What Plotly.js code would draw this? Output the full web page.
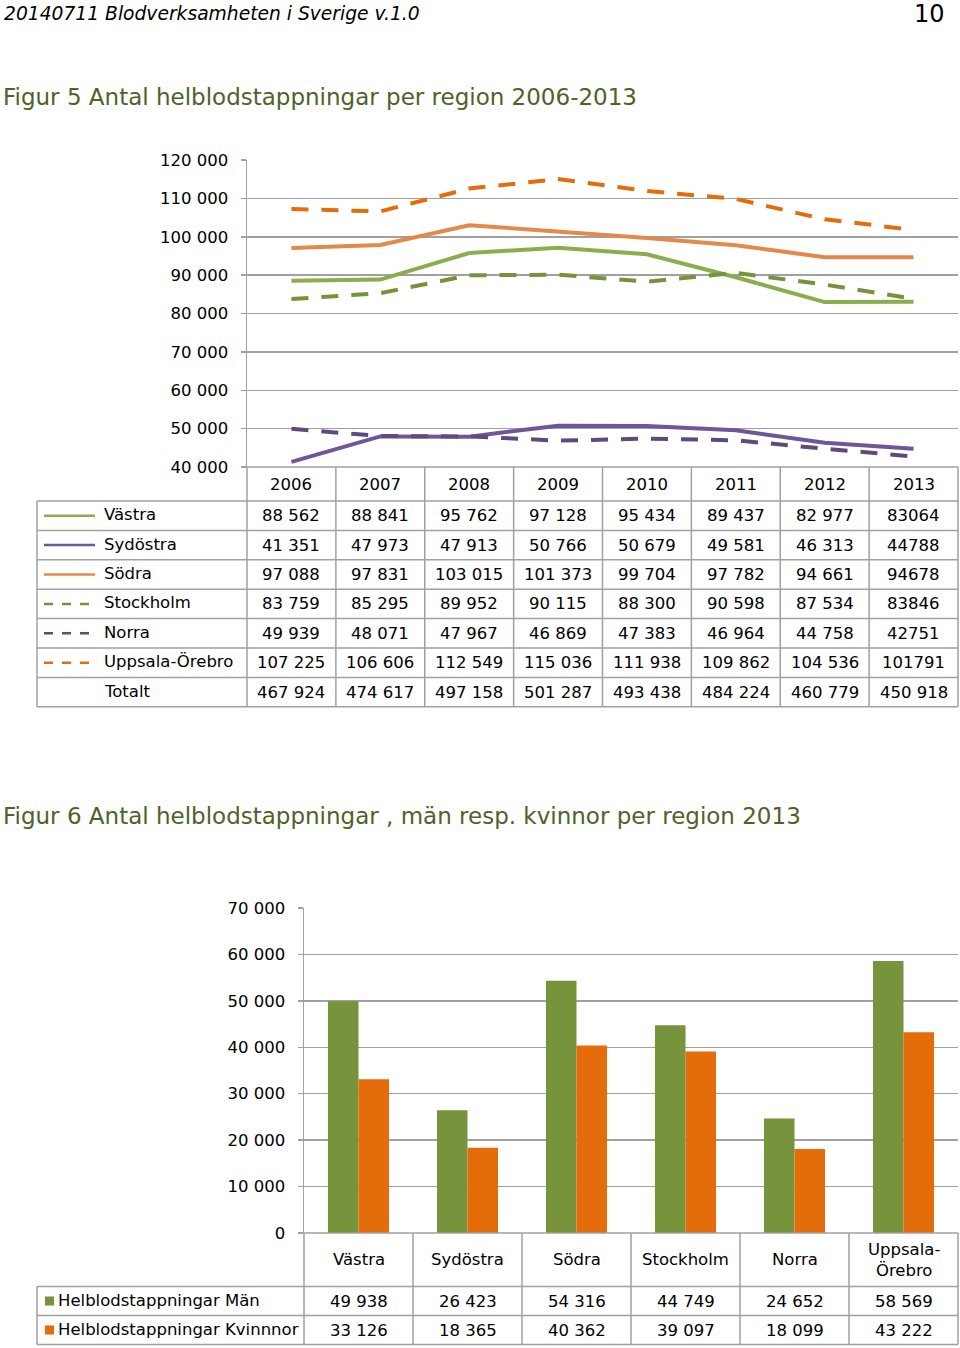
<!DOCTYPE html>
<html><head><meta charset="utf-8">
<script src="https://cdn.plot.ly/plotly-3.0.1.min.js"></script>
<style>html,body{margin:0;padding:0;background:#fff}#chart{width:960px;height:1348px}</style>
</head><body><div id="chart"></div>
<script>
// ---------- DATA ----------
const years = ['2006','2007','2008','2009','2010','2011','2012','2013'];
const regionNames = ['Västra','Sydöstra','Södra','Stockholm','Norra','Uppsala-Örebro'];
const vastra    = [88562, 88841, 95762, 97128, 95434, 89437, 82977, 83064];
const sydostra  = [41351, 47973, 47913, 50766, 50679, 49581, 46313, 44788];
const sodra     = [97088, 97831, 103015, 101373, 99704, 97782, 94661, 94678];
const stockholm = [83759, 85295, 89952, 90115, 88300, 90598, 87534, 83846];
const norra     = [49939, 48071, 47967, 46869, 47383, 46964, 44758, 42751];
const uppsala   = [107225, 106606, 112549, 115036, 111938, 109862, 104536, 101791];
const totaltLabel = 'Totalt';
const totalt    = [467924, 474617, 497158, 501287, 493438, 484224, 460779, 450918];
const plainFormatYears = ['2013']; // regional values for these years are printed without grouping in the source

const regions2013 = ['Västra','Sydöstra','Södra','Stockholm','Norra','Uppsala-Örebro'];
const manLabel = 'Helblodstappningar Män';
const kvinnorLabel = 'Helblodstappningar Kvinnnor';
const man2013     = [49938, 26423, 54316, 44749, 24652, 58569];
const kvinnor2013 = [33126, 18365, 40362, 39097, 18099, 43222];

const headerText = '20140711 Blodverksamheten i Sverige v.1.0';
const pageNumber = '10';
const fig5Title = 'Figur 5 Antal helblodstappningar per region 2006-2013';
const fig6Title = 'Figur 6 Antal helblodstappningar , män resp. kvinnor per region 2013';

// ---------- STYLES ----------
const seriesValues = [vastra, sydostra, sodra, stockholm, norra, uppsala];
const seriesStyles = [
  {color:'#8AAE4E', dash:'solid'},
  {color:'#6E5699', dash:'solid'},
  {color:'#E3894A', dash:'solid'},
  {color:'#76923C', dash:'17px,13px'},
  {color:'#5F4A7B', dash:'17px,13px'},
  {color:'#E46C0A', dash:'17px,13px'}
];
const legendDash = '9px,9px';
const manColor = '#77933C', kvinnorColor = '#E46C0A';
const gridColor = '#A0A0A0';
const FONT = 'DejaVu Sans, Verdana, sans-serif';
const W = 960, H = 1348;
const px = x => x / W;
const py = y => 1 - y / H;
const grp = v => String(v).replace(/\B(?=(\d{3})+(?!\d))/g, ' ');

// geometry
const c1 = {left:247, right:958, top:160, bottom:467};
const t1 = {left:37, headBottom:501, rowH:29.4};
const c2 = {left:304, right:958, top:908, bottom:1233};
const t2 = {left:37, headBottom:1286.5, rowH:29};

// ---------- TRACES ----------
const traces = [];
seriesValues.forEach((vals, i) => {
  traces.push({
    type:'scatter', mode:'lines', x: years, y: vals, name: regionNames[i],
    xaxis:'x', yaxis:'y', hoverinfo:'skip',
    line:{color: seriesStyles[i].color, width:4, dash: seriesStyles[i].dash}
  });
});
traces.push({type:'bar', x: regions2013, y: man2013, name: manLabel, xaxis:'x2', yaxis:'y2',
  marker:{color: manColor}, hoverinfo:'skip'});
traces.push({type:'bar', x: regions2013, y: kvinnor2013, name: kvinnorLabel, xaxis:'x2', yaxis:'y2',
  marker:{color: kvinnorColor}, hoverinfo:'skip'});

// ---------- SHAPES & ANNOTATIONS ----------
const shapes = [];
const annotations = [];
const line = (x0,y0,x1,y1,color,width,dash) => shapes.push({type:'line', xref:'paper', yref:'paper',
  x0:px(x0), y0:py(y0), x1:px(x1), y1:py(y1), line:{color:color||gridColor, width:width||1.5, dash:dash||'solid'}, layer:'above'});
const text = (x,y,t,opts) => annotations.push(Object.assign({xref:'paper', yref:'paper', x:px(x), y:py(y), text:t,
  showarrow:false, xanchor:'center', yanchor:'middle', font:{family:FONT, size:16.5, color:'#000'}}, opts||{}));

// Table 1
const colW1 = (c1.right - c1.left) / years.length;
const nRows1 = regionNames.length + 1;
const tBottom1 = t1.headBottom + t1.rowH * nRows1;
line(c1.left, c1.bottom, c1.right, c1.bottom);
for (let r = 0; r <= nRows1; r++) {
  const y = t1.headBottom + r * t1.rowH;
  line(t1.left, y, c1.right, y);
}
line(t1.left, t1.headBottom, t1.left, tBottom1);
for (let c = 0; c <= years.length; c++) {
  const x = c1.left + c * colW1;
  line(x, c1.bottom, x, tBottom1);
}
years.forEach((yr, c) => text(c1.left + (c + 0.5) * colW1, (c1.bottom + t1.headBottom) / 2, yr));
regionNames.forEach((name, r) => {
  const yc = t1.headBottom + (r + 0.5) * t1.rowH;
  line(44, yc, 95, yc, seriesStyles[r].color, 2.5, seriesStyles[r].dash === 'solid' ? 'solid' : legendDash);
  text(102, yc - 1, name, {xanchor:'left'});
  seriesValues[r].forEach((v, c) => {
    const lbl = plainFormatYears.includes(years[c]) ? String(v) : grp(v);
    text(c1.left + (c + 0.5) * colW1, yc, lbl);
  });
});
{
  const yc = t1.headBottom + (regionNames.length + 0.5) * t1.rowH;
  text(102, yc - 1, totaltLabel, {xanchor:'left'});
  totalt.forEach((v, c) => text(c1.left + (c + 0.5) * colW1, yc, grp(v)));
}

// Table 2
const colW2 = (c2.right - c2.left) / regions2013.length;
const tBottom2 = t2.headBottom + t2.rowH * 2;
line(c2.left, c2.bottom, c2.right, c2.bottom);
for (let r = 0; r <= 2; r++) {
  const y = t2.headBottom + r * t2.rowH;
  line(t2.left, y, c2.right, y);
}
line(t2.left, t2.headBottom, t2.left, tBottom2);
for (let c = 0; c <= regions2013.length; c++) {
  const x = c2.left + c * colW2;
  line(x, c2.bottom, x, tBottom2);
}
regions2013.forEach((name, c) => text(c2.left + (c + 0.5) * colW2, (c2.bottom + t2.headBottom) / 2,
  name.replace('-', '-<br>')));
[[manLabel, man2013, manColor], [kvinnorLabel, kvinnor2013, kvinnorColor]].forEach(([lab, vals, col], r) => {
  const yc = t2.headBottom + (r + 0.5) * t2.rowH;
  shapes.push({type:'rect', xref:'paper', yref:'paper', x0:px(45), x1:px(54), y0:py(yc + 4.5), y1:py(yc - 4.5),
    fillcolor:col, line:{width:0}});
  text(55.5, yc - 1, lab, {xanchor:'left'});
  vals.forEach((v, c) => text(c2.left + (c + 0.5) * colW2, yc, grp(v)));
});

// Page texts
text(2, 14, '<i>' + headerText + '</i>', {xanchor:'left', font:{family:FONT, size:18.7, color:'#000'}});
text(947, 14, pageNumber, {xanchor:'right', font:{family:FONT, size:24, color:'#000'}});
text(1, 97, fig5Title, {xanchor:'left', font:{family:FONT, size:23, color:'#4F6228'}});
text(1, 816, fig6Title, {xanchor:'left', font:{family:FONT, size:23, color:'#4F6228'}});

// ---------- LAYOUT ----------
const yAxisCommon = {
  showgrid:true, gridcolor:gridColor, gridwidth:1.5, zeroline:false,
  showline:true, linecolor:gridColor, linewidth:1.5,
  ticks:'outside', ticklen:5, tickcolor:gridColor, tickwidth:1.5,
  tickformat:',d', ticklabelstandoff:9,
  tickfont:{family:FONT, size:16.5, color:'#000'}, fixedrange:true
};
const layout = {
  width:W, height:H, margin:{l:0, r:0, t:0, b:0},
  paper_bgcolor:'#fff', plot_bgcolor:'#fff',
  separators:', ', showlegend:false,
  font:{family:FONT},
  barmode:'group', bargap:0.44, bargroupgap:0,
  xaxis:{domain:[px(c1.left), px(c1.right)], type:'category', range:[-0.5, years.length - 0.5],
    showticklabels:false, showgrid:false, zeroline:false, showline:false, ticks:'', fixedrange:true},
  yaxis:Object.assign({}, yAxisCommon, {domain:[py(c1.bottom), py(c1.top)], range:[40000, 120000], dtick:10000, anchor:'x'}),
  xaxis2:{domain:[px(c2.left), px(c2.right)], type:'category', range:[-0.5, regions2013.length - 0.5],
    showticklabels:false, showgrid:false, zeroline:false, showline:false, ticks:'', anchor:'y2', fixedrange:true},
  yaxis2:Object.assign({}, yAxisCommon, {domain:[py(c2.bottom), py(c2.top)], range:[0, 70000], dtick:10000, anchor:'x2'}),
  shapes:shapes, annotations:annotations
};
Plotly.newPlot('chart', traces, layout, {staticPlot:true, displayModeBar:false});
</script>
</body></html>
